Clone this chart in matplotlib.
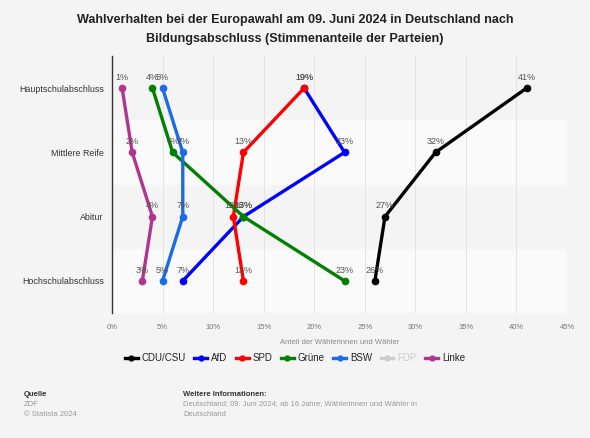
import numpy as np
import matplotlib
matplotlib.use("Agg")
import matplotlib.pyplot as plt
from matplotlib.lines import Line2D

plt.rcParams['font.family'] = ['Liberation Sans', 'DejaVu Sans']

# %% Data
categories = ['Hauptschulabschluss', 'Mittlere Reife', 'Abitur', 'Hochschulabschluss']
parties = ['CDU/CSU', 'AfD', 'SPD', 'Grüne', 'BSW', 'FDP', 'Linke']
cdu = [41, 32, 27, 26]
afd = [19, 23, 13, 7]
spd = [19, 13, 12, 13]
gruene = [4, 6, 13, 23]
bsw = [5, 7, 7, 5]
linke = [1, 2, 4, 3]
xticks = [0, 5, 10, 15, 20, 25, 30, 35, 40, 45]

series = {'CDU/CSU': cdu, 'AfD': afd, 'SPD': spd, 'Grüne': gruene,
          'BSW': bsw, 'Linke': linke}
colors = {'CDU/CSU': '#000000', 'AfD': '#0000ff', 'SPD': '#ff0000',
          'Grüne': '#008000', 'BSW': '#1a6be8', 'FDP': '#cccccc',
          'Linke': '#b0358f'}

BG = '#f4f4f4'

# %% Plot
fig = plt.figure(figsize=(5.9, 4.38), dpi=100, facecolor=BG)
ax = fig.add_axes([112 / 590, 1 - 313 / 438, 455 / 590, 257 / 438])
ax.set_facecolor(BG)

y = np.arange(len(categories))
for i in y:
    if i % 2 == 1:
        ax.axhspan(i - 0.5, i + 0.5, color='#fafafa', zorder=0, lw=0)

for xt in xticks:
    ax.axvline(xt, color='#e4e4e4', lw=0.7, zorder=0.5)

for name, vals in series.items():
    ax.plot(vals, y, color=colors[name], lw=2.4, marker='o', ms=4.5,
            solid_capstyle='round', zorder=3)
    for xv, yv in zip(vals, y):
        ax.annotate(f'{xv}%', (xv, yv), xytext=(0, 4.5), textcoords='offset points',
                    ha='center', va='bottom', fontsize=6.5, color='#555555',
                    zorder=4)

ax.set_xlim(0, 45)
ax.set_ylim(3.5, -0.5)
ax.set_yticks(y)
ax.set_yticklabels(categories, fontsize=6.4, color='#333333')
ax.set_xticks(xticks)
ax.set_xticklabels([f'{t}%' for t in xticks], fontsize=5.5, color='#777777')
ax.tick_params(axis='both', length=0)
ax.tick_params(axis='x', pad=8)
ax.tick_params(axis='y', pad=6)
for s in ['top', 'right', 'bottom']:
    ax.spines[s].set_visible(False)
ax.spines['left'].set_color('#333333')
ax.spines['left'].set_linewidth(1.0)
ax.set_xlabel('Anteil der Wählerinnen und Wähler', fontsize=5.5,
              color='#888888', labelpad=6)

fig.text(0.5, 1 - 20 / 438, 'Wahlverhalten bei der Europawahl am 09. Juni 2024 in Deutschland nach',
         ha='center', va='center', fontsize=9.1, fontweight='bold', color='#222222')
fig.text(0.5, 1 - 39 / 438, 'Bildungsabschluss (Stimmenanteile der Parteien)',
         ha='center', va='center', fontsize=9.1, fontweight='bold', color='#222222')

handles = []
for name in parties:
    handles.append(Line2D([0], [0], color=colors[name], lw=2.4, marker='o', ms=3.5))
leg = fig.legend(handles, parties, loc='center', bbox_to_anchor=(0.5, 1 - 358 / 438),
                 ncol=len(parties), frameon=False, fontsize=7, handlelength=1.3,
                 handletextpad=0.4, columnspacing=0.9)
for txt, name in zip(leg.get_texts(), parties):
    txt.set_color('#cccccc' if name == 'FDP' else '#222222')

fig.text(24 / 590, 1 - 394 / 438, 'Quelle', fontsize=5.5, fontweight='bold',
         color='#333333', va='center')
fig.text(24 / 590, 1 - 404 / 438, 'ZDF', fontsize=5.5, color='#999999', va='center')
fig.text(24 / 590, 1 - 415 / 438, '© Statista 2024', fontsize=5.5, color='#999999', va='center')
fig.text(183 / 590, 1 - 394 / 438, 'Weitere Informationen:', fontsize=5.5,
         fontweight='bold', color='#333333', va='center')
fig.text(183 / 590, 1 - 404 / 438,
         'Deutschland; 09. Juni 2024; ab 16 Jahre; Wählerinnen und Wähler in',
         fontsize=5.5, color='#999999', va='center')
fig.text(183 / 590, 1 - 415 / 438, 'Deutschland', fontsize=5.5, color='#999999', va='center')

fig.savefig('out.png', dpi=100, facecolor=BG)
